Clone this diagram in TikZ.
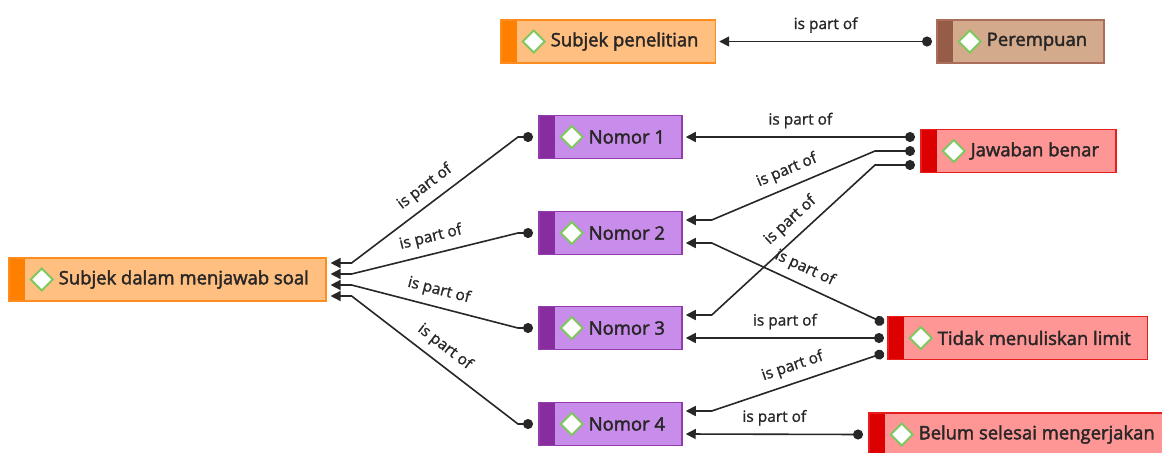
\documentclass[tikz,border=0pt]{standalone}
\usepackage{fontspec}
\setmainfont{Open Sans}
\newfontfamily\boxfont[FakeBold=2.2]{Open Sans}
\newfontfamily\tagfont[FakeBold=1.2]{Open Sans}
\usetikzlibrary{arrows.meta,calc}
\definecolor{sunsetfill}{RGB}{255,191,128}
\definecolor{sunsetbar}{RGB}{255,128,0}
\definecolor{sunsetline}{RGB}{255,140,30}
\definecolor{clayfill}{RGB}{212,170,140}
\definecolor{claybar}{RGB}{150,92,72}
\definecolor{clayline}{RGB}{170,110,90}
\definecolor{plumfill}{RGB}{200,140,235}
\definecolor{plumbar}{RGB}{135,45,160}
\definecolor{plumline}{RGB}{145,60,170}
\definecolor{coralfill}{RGB}{255,150,150}
\definecolor{coralbar}{RGB}{220,0,0}
\definecolor{coralline}{RGB}{230,30,30}
\definecolor{gem}{RGB}{125,200,95}
\definecolor{ink}{RGB}{40,38,38}
\tikzset{
  entity/.style={draw=#1line,fill=#1fill,line width=0.3mm,anchor=west,
    minimum height=8.6mm,inner xsep=3.4mm,inner ysep=0pt,text=ink,
    font=\boxfont\fontsize{10.5}{12}\selectfont,
    path picture={
      \fill[#1bar] (path picture bounding box.south west) rectangle ([xshift=3.2mm]path picture bounding box.north west);
      \draw[gem,fill=white,line width=0.4mm] ([xshift=4.4mm]path picture bounding box.west)
        -- ++(2.2mm,2.2mm) -- ++(2.2mm,-2.2mm) -- ++(-2.2mm,-2.2mm) -- cycle;
    }},
  entity/.default=sunset,
  partof/.style={{Circle[length=2mm]}-{Triangle[length=2mm,width=2mm]},line width=0.32mm,draw=ink},
  lbl/.style={font=\tagfont\fontsize{8.8}{10}\selectfont,text=ink,inner sep=1pt,above=3.5pt},
}
\begin{document}
\begin{tikzpicture}[x=0.2mm,y=-0.2mm]
  \useasboundingbox (0,0) rectangle (1162,452);
  % entities
  \node[entity=sunset] (sp) at (500,41.5) {\hspace*{6.6mm}Subjek penelitian};
  \node[entity=clay] (prm) at (936,41.5) {\hspace*{6.6mm}Perempuan};
  \node[entity=sunset] (sdm) at (8,279.5) {\hspace*{6.6mm}Subjek dalam menjawab soal};
  \foreach \i/\y in {1/137,2/233,3/328,4/424}
    \node[entity=plum] (n\i) at (538,\y) {\hspace*{6.6mm}Nomor \i};
  \node[entity=coral] (jb) at (920,151) {\hspace*{6.6mm}Jawaban benar};
  \node[entity=coral] (tml) at (887,338) {\hspace*{6.6mm}Tidak menuliskan limit};
  \node[entity=coral] (bsm) at (868,434.5) {\hspace*{6.6mm}Belum selesai mengerjakan};

  % relations
  \draw[partof] ($(prm.west)+(-4,0)$) -- node[lbl] {is part of} ($(sp.east)+(3,0)$);
  \foreach \i/\o in {1/-16.5,2/-5.5,3/5.5,4/16.5}
    \draw[partof] ($(n\i.west)+(-5,0)$) -- ++(-15,0) -- node[lbl,sloped] {is part of}
      ($(sdm.east)+(25,\o)$) -- ($(sdm.east)+(4,\o)$);
  \draw[partof] ($(jb.west)+(-5,-14)$) -- node[lbl] {is part of} ($(n1.east)+(3,0)$);
  \draw[partof] ($(jb.west)+(-5,0)$) -- ++(-40,0) -- node[lbl,sloped] {is part of}
    ($(n2.east)+(29,-13)$) -- ($(n2.east)+(3,-13)$);
  \draw[partof] ($(jb.west)+(-5,14)$) -- ++(-40,0) -- node[lbl,sloped,pos=0.45] {is part of}
    ($(n3.east)+(29,-13)$) -- ($(n3.east)+(3,-13)$);
  \draw[partof] ($(tml.west)+(-3,-15)$) -- node[lbl,sloped] {is part of}
    ($(n2.east)+(29,10)$) -- ($(n2.east)+(3,10)$);
  \draw[partof] ($(tml.west)+(-3,0)$) -- node[lbl] {is part of} ($(n3.east)+(3,10)$);
  \draw[partof] ($(tml.west)+(-3,15)$) -- node[lbl,sloped] {is part of}
    ($(n4.east)+(29,-13)$) -- ($(n4.east)+(3,-13)$);
  \draw[partof] ($(bsm.west)+(-5,0)$) -- node[lbl] {is part of} ($(n4.east)+(3,10)$);
\end{tikzpicture}
\end{document}
